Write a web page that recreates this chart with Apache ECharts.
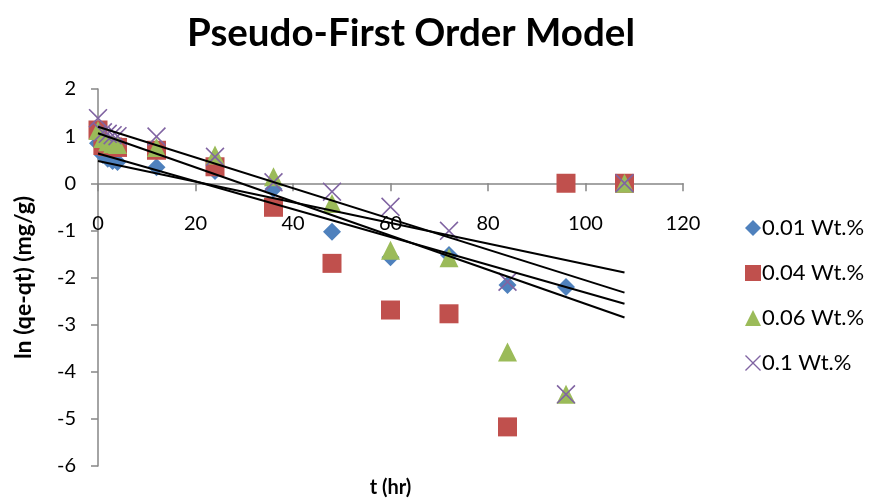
<!DOCTYPE html>
<html>
<head>
<meta charset="utf-8">
<script src="https://cdn.jsdelivr.net/npm/echarts@6/dist/echarts.min.js"></script>
<style>
  html, body { margin: 0; padding: 0; background: #fff; }
  #chart { width: 874px; height: 499px; }
</style>
</head>
<body>
<div id="chart"></div>
<script>
// Sampling times (hr)
const times = [0, 1, 2, 3, 4, 12, 24, 36, 48, 60, 72, 84, 96, 108];

// ln(qe - qt) for each loading
const names = ['0.01 Wt.%', '0.04 Wt.%', '0.06 Wt.%', '0.1 Wt.%'];
const lnQ001 = [0.85, 0.60, 0.52, 0.47, 0.45, 0.34, 0.26, -0.12, -1.03, -1.57, -1.52, -2.16, -2.20, null];
const lnQ004 = [1.13, 0.80, 0.78, 0.77, 0.76, 0.70, 0.35, -0.51, -1.70, -2.69, -2.77, -5.17, 0, 0];
const lnQ006 = [1.12, 0.95, 0.88, 0.84, 0.82, 0.76, 0.60, 0.14, -0.43, -1.42, -1.58, -3.58, -4.48, 0];
const lnQ01  = [1.38, 1.08, 1.05, 1.02, 1.00, 0.99, 0.56, 0.02, -0.18, -0.50, -1.01, -2.09, -4.48, 0];

// Linear trendlines (intercept, slope) and the x-range they span
const fitIntercept = [0.47, 1.06, 0.63, 1.20];
const fitSlope = [-0.0219, -0.0362, -0.0295, -0.0326];
const fitRange = [0, 108];

// Axis ticks
const xTicks = { min: 0, max: 120, step: 20 };
const yTicks = { min: -6, max: 2, step: 1 };

const colors = ['#4F81BD', '#C0504D', '#9BBB59', '#8064A2'];
const crossPath = 'path://M0,6L6,0L50,44L94,0L100,6L56,50L100,94L94,100L50,56L6,100L0,94L44,50Z';
const symbols = ['diamond', 'rect', 'triangle', crossPath];
const sizes = [18, 19, 19, 19];
const values = [lnQ001, lnQ004, lnQ006, lnQ01];

const font = 'Lato, "Open Sans", "Liberation Sans", sans-serif';

// Plot box in pixels
const plot = { left: 98, right: 191, top: 89, bottom: 33, height: 499 - 89 - 33 };
// The time axis sits on the y = 0 line
const zeroOffset = -plot.height * (0 - yTicks.min) / (yTicks.max - yTicks.min);

const series = [];
values.forEach((vals, i) => {
  series.push({
    name: names[i],
    type: 'scatter',
    symbol: symbols[i],
    symbolSize: sizes[i],
    itemStyle: { color: colors[i], opacity: 1 },
    data: times.map((t, k) => vals[k] == null ? null : [t, vals[k]]).filter(d => d),
    z: 2 + i
  });
});
fitIntercept.forEach((b, i) => {
  series.push({
    type: 'line',
    silent: true,
    symbol: 'none',
    lineStyle: { color: '#000', width: 2 },
    data: fitRange.map(x => [x, b + fitSlope[i] * x]),
    z: 10
  });
});

const chart = echarts.init(document.getElementById('chart'), null, { renderer: 'canvas' });
chart.setOption({
  animation: false,
  backgroundColor: '#fff',
  title: {
    text: 'Pseudo-First Order Model',
    left: 182,
    top: 9,
    textStyle: { fontFamily: font, fontWeight: 'bold', fontSize: 38.5, color: '#000' }
  },
  legend: {
    orient: 'vertical',
    left: 740,
    top: 212,
    itemGap: 23,
    itemWidth: 16,
    itemHeight: 16,
    data: names.map((n, i) => ({
      name: n,
      icon: symbols[i],
      itemStyle: { color: colors[i] }
    })),
    textStyle: { fontFamily: font, fontSize: 22, color: '#000', padding: [0, 0, 0, -4] }
  },
  grid: { left: plot.left, right: plot.right, top: plot.top, bottom: plot.bottom, containLabel: false, outerBoundsMode: 'none' },
  xAxis: {
    type: 'value',
    position: 'bottom',
    offset: zeroOffset,
    min: xTicks.min, max: xTicks.max, interval: xTicks.step,
    name: 't (hr)',
    nameLocation: 'middle',
    nameGap: 294,
    nameTextStyle: { fontFamily: font, fontWeight: 'bold', fontSize: 20, color: '#000' },
    axisLine: { onZero: false, lineStyle: { color: '#868686', width: 1.5 } },
    axisTick: { show: true, length: 8, lineStyle: { color: '#868686', width: 1.5 } },
    axisLabel: { fontFamily: font, fontSize: 20, color: '#000', margin: 30 },
    splitLine: { show: false }
  },
  yAxis: {
    type: 'value',
    min: yTicks.min, max: yTicks.max, interval: yTicks.step,
    name: 'ln (qe-qt) (mg/g)',
    nameLocation: 'middle',
    nameRotate: 90,
    nameGap: 63,
    nameTextStyle: { fontFamily: font, fontWeight: 'bold', fontSize: 23, color: '#000' },
    axisLine: { show: true, onZero: false, lineStyle: { color: '#868686', width: 1.5 } },
    axisTick: { show: true, length: 7, lineStyle: { color: '#868686', width: 1.5 } },
    axisLabel: { fontFamily: font, fontSize: 20, color: '#000', margin: 22 },
    splitLine: { show: false }
  },
  series: series
});
</script>
</body>
</html>
